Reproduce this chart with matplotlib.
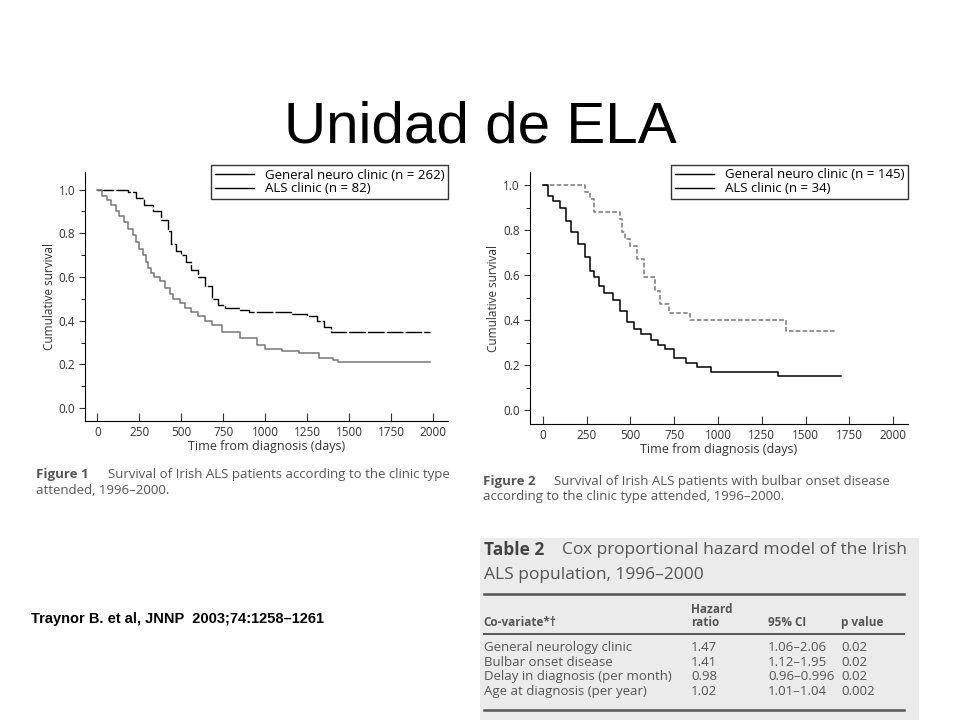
import matplotlib
matplotlib.use("Agg")
import matplotlib.pyplot as plt
from matplotlib.patches import Rectangle

# ---- data ----
f1_als_t = [0, 180, 230, 280, 330, 380, 420, 440, 470, 500, 530, 560, 600, 640, 680, 720, 760,
            850, 900, 1150, 1250, 1310, 1350, 1390, 1980]
f1_als_s = [1.0, 0.99, 0.96, 0.93, 0.90, 0.86, 0.81, 0.75, 0.72, 0.70, 0.67, 0.63, 0.60, 0.56, 0.50,
            0.47, 0.46, 0.45, 0.44, 0.43, 0.42, 0.40, 0.37, 0.35, 0.35]
f1_gen_t = [0, 30, 60, 80, 110, 130, 160, 180, 210, 230, 250, 270, 290, 300, 320, 340, 370, 400,
            430, 450, 490, 520, 560, 600, 640, 680, 740, 850, 950,
            1000, 1100, 1200, 1320, 1400, 1430, 1980]
f1_gen_s = [1.0, 0.97, 0.95, 0.93, 0.90, 0.88, 0.85, 0.82, 0.79, 0.76, 0.73, 0.70, 0.67, 0.64,
            0.62, 0.60, 0.58, 0.55, 0.52, 0.50, 0.48, 0.46, 0.44, 0.42, 0.40, 0.38,
            0.35, 0.32, 0.29, 0.27, 0.26, 0.25, 0.23, 0.22, 0.21, 0.21]

f2_als_t = [0, 240, 270, 290, 440, 450, 470, 500, 540, 580, 640, 670, 720, 840, 1390, 1670]
f2_als_s = [1.0, 0.97, 0.94, 0.88, 0.85, 0.79, 0.76, 0.73, 0.67, 0.59, 0.53, 0.47, 0.43, 0.40,
            0.35, 0.35]
f2_gen_t = [0, 30, 60, 100, 130, 160, 200, 240, 270, 290, 320, 350, 400, 440, 480, 520, 560,
            620, 660, 700, 750, 820, 880, 960, 1340, 1700]
f2_gen_s = [1.0, 0.95, 0.93, 0.90, 0.84, 0.79, 0.74, 0.68, 0.62, 0.59, 0.55, 0.52, 0.49, 0.44,
            0.39, 0.36, 0.34, 0.31, 0.29, 0.27, 0.23, 0.21, 0.19, 0.17, 0.15, 0.15]

x_ticks = [0, 250, 500, 750, 1000, 1250, 1500, 1750, 2000]
y_ticks = [0.0, 0.2, 0.4, 0.6, 0.8, 1.0]

tbl_header = ["Co-variate*\u2020", "Hazard\nratio", "95% CI", "p value"]
tbl_rows = [
    ["General neurology clinic", "1.47", "1.06\u20132.06", "0.02"],
    ["Bulbar onset disease", "1.41", "1.12\u20131.95", "0.02"],
    ["Delay in diagnosis (per month)", "0.98", "0.96\u20130.996", "0.02"],
    ["Age at diagnosis (per year)", "1.02", "1.01\u20131.04", "0.002"],
]

FONT = "Open Sans"
TXT = "#333333"
GREY = "#555555"
fig = plt.figure(figsize=(9.6, 7.2), dpi=100)
fig.text(0.5, 0.823, "Unidad de ELA", ha="center", va="center",
         fontsize=42, family="Liberation Sans")


def km_axes(rect, xlim, ylim, curves, labels):
    ax = fig.add_axes(rect)
    for t, s, kw in curves:
        ax.step(t, s, where="post", **kw)
    ax.set_xlim(*xlim); ax.set_ylim(*ylim)
    ax.set_xticks(x_ticks); ax.set_yticks(y_ticks)
    ax.set_yticks([0.1, 0.3, 0.5, 0.7, 0.9], minor=True)
    ax.set_yticklabels([f"{v:.1f}" for v in y_ticks])
    ax.tick_params(labelsize=8.5, colors=TXT, length=4, width=0.8)
    ax.tick_params(axis="x", direction="in", length=6)
    ax.tick_params(which="minor", length=3)
    for sp in ("top", "right"):
        ax.spines[sp].set_visible(False)
    for lbl in ax.get_xticklabels() + ax.get_yticklabels():
        lbl.set_family(FONT)
    ax.set_xlabel("Time from diagnosis (days)", fontsize=9, family=FONT, color=TXT, labelpad=1)
    ax.set_ylabel("Cumulative survival", fontsize=8.5, family=FONT, color=TXT, labelpad=2)
    h = [plt.Line2D([], [], color="black", lw=1) for _ in labels]
    leg = ax.legend(h, labels, loc="upper right", bbox_to_anchor=(1.0, 1.03), fancybox=False,
                    edgecolor="black", prop={"family": FONT, "size": 9.5},
                    handlelength=3, borderaxespad=0, labelspacing=0.05, borderpad=0.3)
    leg.get_frame().set_linewidth(1.0)
    return ax


km_axes([0.089, 0.415, 0.378, 0.346], (-71, 2089), (-0.06, 1.08),
        [(f1_als_t, f1_als_s, dict(color="black", lw=1.0, ls=(0, (12, 1.5)))),
         (f1_gen_t, f1_gen_s, dict(color="#777777", lw=1.1))],
        ["General neuro clinic (n = 262)", "ALS clinic (n = 82)"])
km_axes([0.552, 0.411, 0.394, 0.35], (-74, 2086), (-0.062, 1.058),
        [(f2_als_t, f2_als_s, dict(color="#777777", lw=1.1, ls=(0, (3, 1.5)))),
         (f2_gen_t, f2_gen_s, dict(color="black", lw=1.1))],
        ["General neuro clinic (n = 145)", "ALS clinic (n = 34)"])

# figure captions
fig.text(0.038, 0.336, "Figure 1", fontsize=9.5, weight="bold", family=FONT, color=GREY)
fig.text(0.112, 0.336, "Survival of Irish ALS patients according to the clinic type",
         fontsize=9.5, family=FONT, color=GREY)
fig.text(0.038, 0.314, "attended, 1996\u20132000.", fontsize=9.5, family=FONT, color=GREY)
fig.text(0.503, 0.327, "Figure 2", fontsize=9.5, weight="bold", family=FONT, color=GREY)
fig.text(0.577, 0.327, "Survival of Irish ALS patients with bulbar onset disease",
         fontsize=9.5, family=FONT, color=GREY)
fig.text(0.503, 0.305, "according to the clinic type attended, 1996\u20132000.",
         fontsize=9.5, family=FONT, color=GREY)

fig.text(0.032, 0.135, "Traynor B. et al, JNNP  2003;74:1258\u20131261", fontsize=10.5,
         weight="bold", family="Liberation Sans")

# table 2 panel
fig.patches.append(Rectangle((0.5, 0.0), 0.457, 0.253, transform=fig.transFigure,
                             facecolor="#ebebeb", edgecolor="none"))
fig.text(0.504, 0.236, "Table 2", fontsize=12.5, weight="bold", family=FONT, color="#444444", va="center")
fig.text(0.585, 0.236, "Cox proportional hazard model of the Irish", fontsize=12.5,
         family=FONT, color=GREY, va="center")
fig.text(0.504, 0.201, "ALS population, 1996\u20132000", fontsize=12.5, family=FONT,
         color=GREY, va="center")
for y, lw in [(0.175, 1.8), (0.119, 1.4), (0.014, 1.8)]:
    fig.add_artist(plt.Line2D([0.504, 0.942], [y, y], color=GREY, lw=lw))
cols = [0.504, 0.72, 0.80, 0.876]
for x, h in zip(cols, tbl_header):
    fig.text(x, 0.126, h, fontsize=8.5, weight="bold", family=FONT, color=GREY,
             va="bottom", linespacing=1.0)
for i, row in enumerate(tbl_rows):
    y = 0.101 - i * 0.0205
    for x, v in zip(cols, row):
        fig.text(x, y, v, fontsize=9.5, family=FONT, color=GREY, va="center")

fig.savefig("out.png", dpi=100)
